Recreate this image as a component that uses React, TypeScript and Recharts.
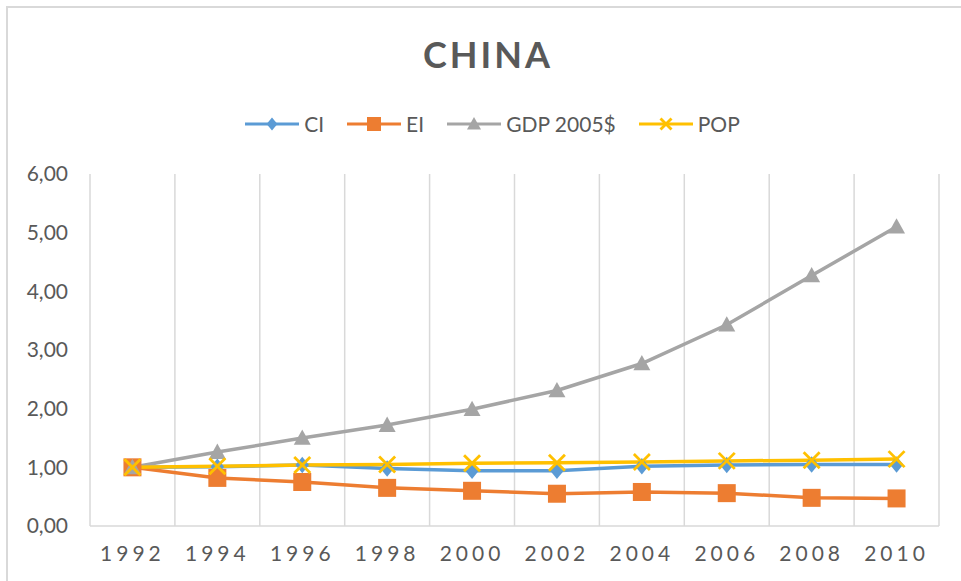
import React from 'react';
import { LineChart, Line, XAxis, YAxis, CartesianGrid } from 'recharts';

const years = ['1992', '1994', '1996', '1998', '2000', '2002', '2004', '2006', '2008', '2010'];
const ci = [1.0, 1.01, 1.04, 0.98, 0.94, 0.94, 1.02, 1.04, 1.05, 1.05];
const ei = [1.0, 0.82, 0.75, 0.65, 0.6, 0.55, 0.58, 0.56, 0.48, 0.47];
const gdp = [1.0, 1.26, 1.5, 1.72, 1.99, 2.31, 2.77, 3.43, 4.27, 5.1];
const pop = [1.0, 1.02, 1.04, 1.05, 1.07, 1.08, 1.09, 1.11, 1.12, 1.14];
const yTicks = [0, 1, 2, 3, 4, 5, 6];

const data = years.map((year, i) => ({
  year,
  CI: ci[i],
  EI: ei[i],
  GDP: gdp[i],
  POP: pop[i],
}));

const BLUE = '#5b9bd5';
const ORANGE = '#ed7d31';
const GREY = '#a5a5a5';
const GOLD = '#ffc000';
const TEXT = '#595959';
const GRID = '#d9d9d9';

const PLOT_W = 849;
const HALF_BAND = PLOT_W / years.length / 2;

type Marker = 'diamond' | 'square' | 'triangle' | 'cross';

function markerShape(kind: Marker, cx: number, cy: number, s: number, color: string, key?: React.Key) {
  const h = s / 2;
  switch (kind) {
    case 'diamond':
      return <polygon key={key} points={`${cx},${cy - h * 1.1} ${cx + h * 0.9},${cy} ${cx},${cy + h * 1.1} ${cx - h * 0.9},${cy}`} fill={color} />;
    case 'square':
      return <rect key={key} x={cx - h} y={cy - h} width={s} height={s} fill={color} />;
    case 'triangle':
      return <polygon key={key} points={`${cx},${cy - h} ${cx + h},${cy + h * 0.8} ${cx - h},${cy + h * 0.8}`} fill={color} />;
    default:
      return (
        <g key={key} stroke={color} strokeWidth={2.8}>
          <line x1={cx - h} y1={cy - h} x2={cx + h} y2={cy + h} />
          <line x1={cx - h} y1={cy + h} x2={cx + h} y2={cy - h} />
        </g>
      );
  }
}

const makeDot = (kind: Marker, size: number, color: string) => (props: any) =>
  markerShape(kind, props.cx, props.cy, size, color, `${kind}-${props.index}`);

const legendItems: { name: string; kind: Marker; color: string; size: number }[] = [
  { name: 'CI', kind: 'diamond', color: BLUE, size: 12 },
  { name: 'EI', kind: 'square', color: ORANGE, size: 14 },
  { name: 'GDP 2005$', kind: 'triangle', color: GREY, size: 14 },
  { name: 'POP', kind: 'cross', color: GOLD, size: 11 },
];

function ChartLegend() {
  return (
    <div
      style={{
        position: 'absolute',
        top: 111,
        left: 0,
        width: 961,
        display: 'flex',
        justifyContent: 'center',
        gap: 23,
        paddingLeft: 24,
        boxSizing: 'border-box',
      }}
    >
      {legendItems.map((item) => (
        <div key={item.name} style={{ display: 'flex', alignItems: 'center' }}>
          <svg width={54} height={22}>
            <line x1={0} y1={11} x2={54} y2={11} stroke={item.color} strokeWidth={3} />
            {markerShape(item.kind, 27, 11, item.size, item.color)}
          </svg>
          <span style={{ marginLeft: 5, fontSize: 21, color: TEXT }}>{item.name}</span>
        </div>
      ))}
    </div>
  );
}

export default function App() {
  const fmt = (v: number) => v.toFixed(2).replace('.', ',');

  return (
    <div
      style={{
        position: 'absolute',
        left: 0,
        top: 0,
        width: 961,
        height: 581,
        overflow: 'hidden',
        background: '#fff',
        fontFamily: 'Lato, "Liberation Sans", sans-serif',
      }}
    >
      <div
        style={{
          position: 'absolute',
          left: 6,
          top: 6,
          width: 1100,
          height: 800,
          border: `2px solid ${GRID}`,
        }}
      />
      <div
        style={{
          position: 'absolute',
          left: 0,
          top: 32,
          width: 976,
          textAlign: 'center',
          fontSize: 36,
          fontWeight: 'bold',
          letterSpacing: 3,
          color: TEXT,
        }}
      >
        CHINA
      </div>
      <ChartLegend />
      <LineChart
        width={961}
        height={581}
        data={data}
        margin={{ top: 174, right: 22, bottom: 5, left: 20 }}
        style={{ position: 'absolute', left: 0, top: 0 }}
      >
        <CartesianGrid
          horizontal={false}
          stroke={GRID}
          strokeWidth={1.5}
          verticalCoordinatesGenerator={({ offset }: any) =>
            years.concat(['']).map((_, i) => offset.left + (i * offset.width) / years.length)
          }
        />
        <XAxis
          dataKey="year"
          interval={0}
          height={50}
          padding={{ left: HALF_BAND, right: HALF_BAND }}
          axisLine={{ stroke: GRID, strokeWidth: 1.5 }}
          tickLine={false}
          tickSize={0}
          tickMargin={20}
          tick={{ fontSize: 21, fill: TEXT, letterSpacing: 4 }}
        />
        <YAxis
          domain={[0, 6]}
          ticks={yTicks}
          width={70}
          axisLine={false}
          tickLine={false}
          tickSize={0}
          tickMargin={22}
          tickFormatter={fmt}
          tick={{ fontSize: 21, fill: TEXT }}
        />
        <Line dataKey="CI" stroke={BLUE} strokeWidth={3.5} dot={makeDot('diamond', 15, BLUE)} isAnimationActive={false} />
        <Line dataKey="EI" stroke={ORANGE} strokeWidth={3.5} dot={makeDot('square', 18, ORANGE)} isAnimationActive={false} />
        <Line dataKey="GDP" stroke={GREY} strokeWidth={3.5} dot={makeDot('triangle', 17, GREY)} isAnimationActive={false} />
        <Line dataKey="POP" stroke={GOLD} strokeWidth={3.5} dot={makeDot('cross', 16, GOLD)} isAnimationActive={false} />
      </LineChart>
    </div>
  );
}
